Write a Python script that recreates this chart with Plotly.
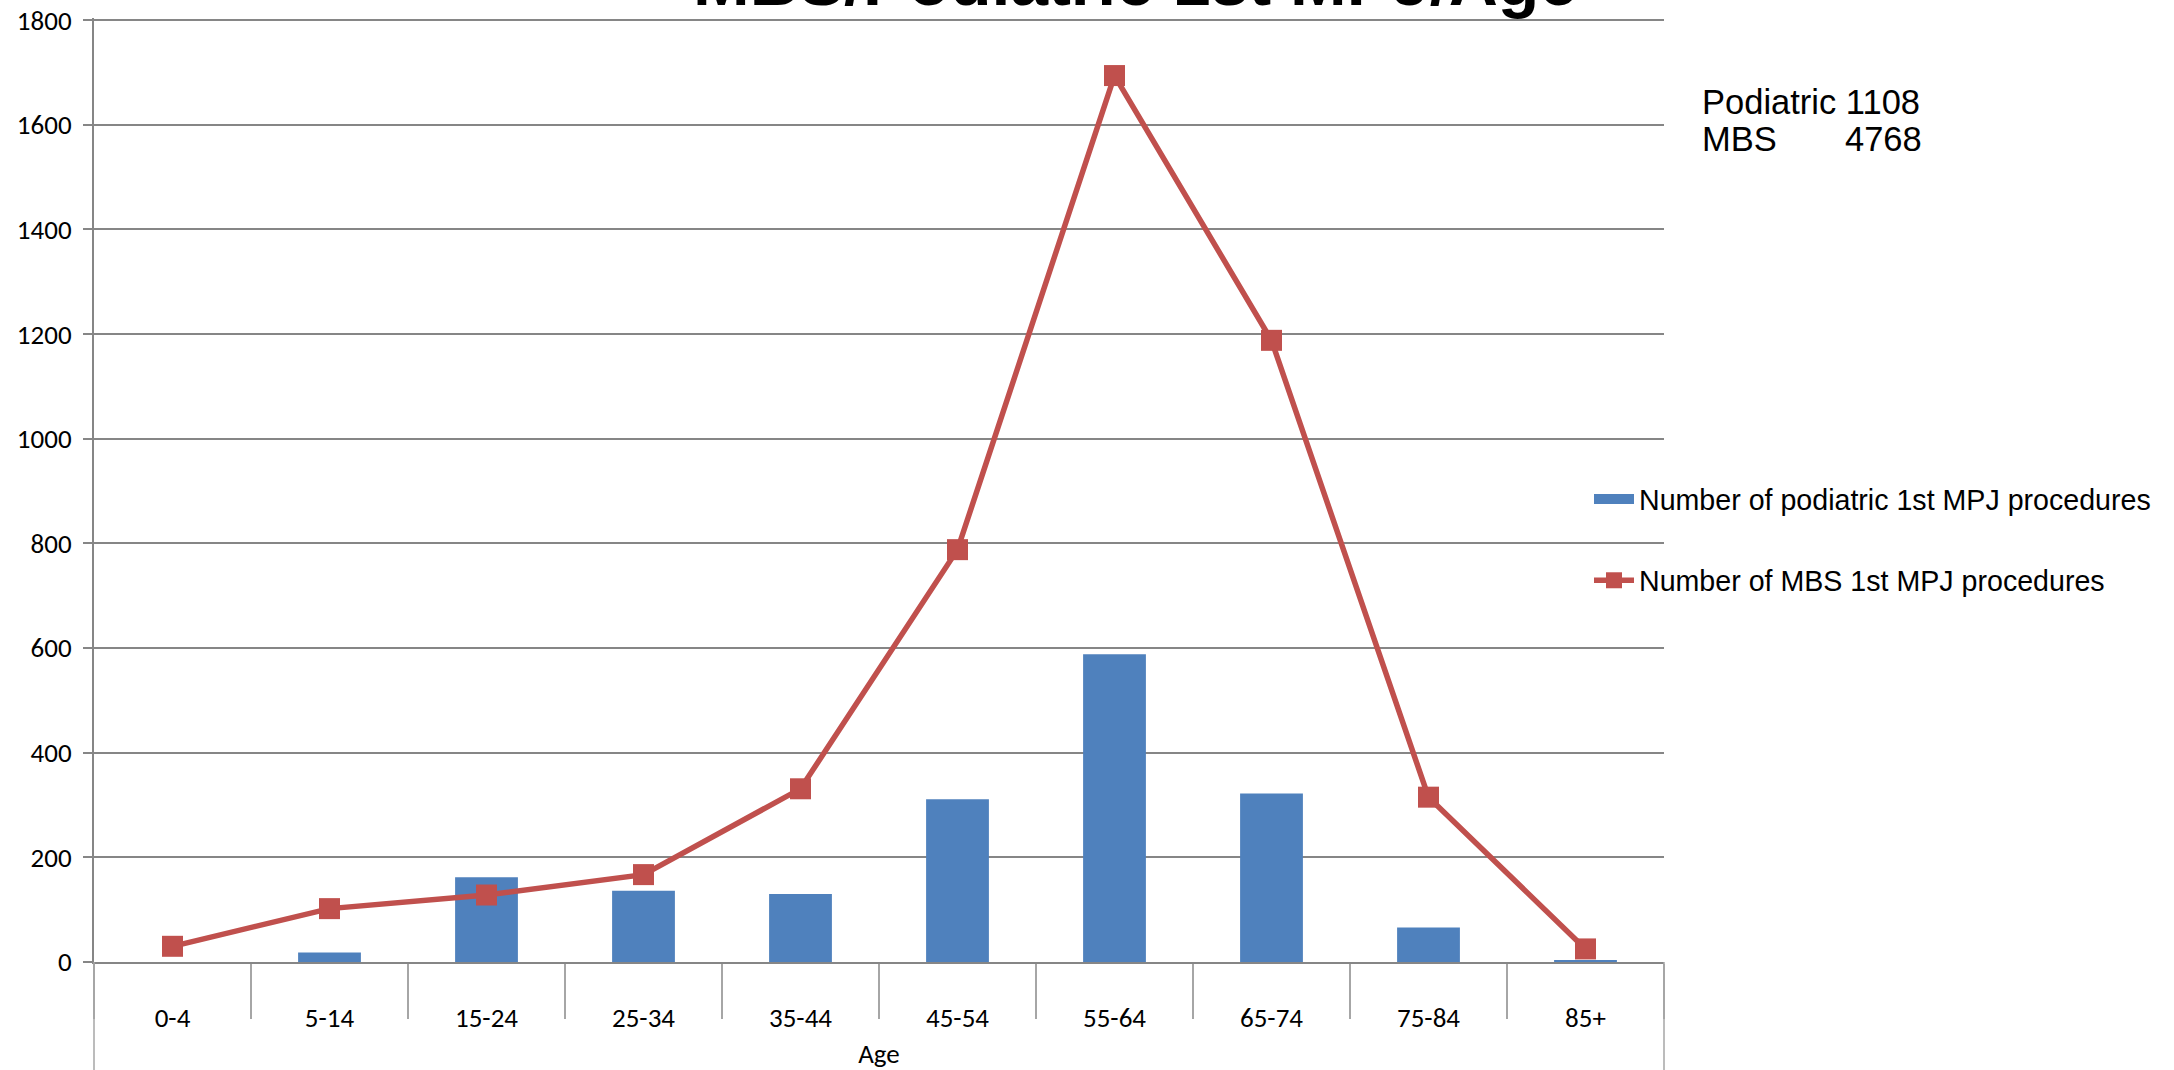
import plotly.graph_objects as go

# Age bands and procedure counts
age_groups = ["0-4", "5-14", "15-24", "25-34", "35-44", "45-54", "55-64", "65-74", "75-84", "85+"]
podiatric_counts = [0, 18, 162, 136, 130, 311, 588, 322, 66, 4]
mbs_counts = [30, 102, 128, 167, 331, 788, 1694, 1188, 315, 25]

y_ticks = [0, 200, 400, 600, 800, 1000, 1200, 1400, 1600, 1800]

podiatric_name = "Number of podiatric 1st MPJ procedures"
mbs_name = "Number of MBS 1st MPJ procedures"
chart_title = "MBS/Podiatric 1st MPJ/Age"
total_lines = [("Podiatric 1108", None), ("MBS", "4768")]

W, H = 2174, 1070
M_L, M_R, M_T, M_B = 94, 510, 18, 108
PW, PH = W - M_L - M_R, H - M_T - M_B


def px_x(x):
    return (x - M_L) / PW


def px_y(y):
    return (H - M_B - y) / PH


GRID = "#868686"
BLUE = "#4F81BD"
RED = "#C0504D"
TICK_FONT = dict(family="Carlito, Lato, sans-serif", size=27, color="#000000")
ARIAL = "Arial, Liberation Sans, sans-serif"

fig = go.Figure()

fig.add_trace(go.Bar(
    x=age_groups,
    y=podiatric_counts,
    name=podiatric_name,
    marker=dict(color=BLUE, line=dict(width=0)),
    width=0.4,
    showlegend=False,
    legendgroup="pod",
))

# Legend key for the bars: a wide flat swatch
fig.add_trace(go.Scatter(
    x=[None], y=[None],
    name=podiatric_name,
    mode="lines",
    line=dict(color=BLUE, width=15),
    legendgroup="pod",
))

fig.add_trace(go.Scatter(
    x=age_groups,
    y=mbs_counts,
    name=mbs_name,
    mode="lines+markers",
    line=dict(color=RED, width=5.5),
    marker=dict(symbol="square", size=21, color=RED),
    legendgroup="mbs",
))

# Frame running down on both sides around the category labels and axis title
shapes = []
for xe in (0, 1):
    shapes.append(dict(type="line", xref="paper", yref="paper",
                       x0=xe, x1=xe, y0=0, y1=-M_B / PH,
                       line=dict(color="#A6A6A6", width=1.5)))

annotations = [
    dict(text="<b>" + chart_title + "</b>", xref="paper", yref="paper",
         x=px_x(1135), y=px_y(-19), xanchor="center", yanchor="middle",
         showarrow=False, font=dict(family=ARIAL, size=68, color="#000000")),
    dict(text=total_lines[0][0], xref="paper", yref="paper",
         x=px_x(1700), y=px_y(102), xanchor="left", yanchor="middle",
         showarrow=False, font=dict(family=ARIAL, size=34.5, color="#000000")),
    dict(text=total_lines[1][0], xref="paper", yref="paper",
         x=px_x(1700), y=px_y(139), xanchor="left", yanchor="middle",
         showarrow=False, font=dict(family=ARIAL, size=34.5, color="#000000")),
    dict(text=total_lines[1][1], xref="paper", yref="paper",
         x=px_x(1924), y=px_y(139), xanchor="right", yanchor="middle",
         showarrow=False, font=dict(family=ARIAL, size=34.5, color="#000000")),
]

fig.update_layout(
    width=W, height=H,
    margin=dict(l=M_L, r=M_R, t=M_T, b=M_B, pad=0, autoexpand=False),
    paper_bgcolor="#FFFFFF",
    plot_bgcolor="#FFFFFF",
    showlegend=True,
    legend=dict(
        x=px_x(1589), y=px_y(474), xanchor="left", yanchor="top",
        font=dict(family=ARIAL, size=28.6, color="#000000"),
        bgcolor="rgba(0,0,0,0)",
        tracegroupgap=41,
        itemwidth=40,
    ),
    shapes=shapes,
    annotations=annotations,
    bargap=0.6,
)

fig.update_xaxes(
    type="category",
    range=[-0.5, len(age_groups) - 0.5],
    automargin=False,
    showline=True, linecolor=GRID, linewidth=2,
    showgrid=False,
    ticks="outside", tickson="boundaries", ticklen=55, tickwidth=1.5, tickcolor="#A6A6A6",
    ticklabelstandoff=31,
    tickfont=TICK_FONT,
    title=dict(text="Age", font=TICK_FONT, standoff=17),
)

fig.update_yaxes(
    range=[0, 1804],
    tickvals=y_ticks,
    automargin=False,
    showline=True, linecolor=GRID, linewidth=2,
    showgrid=True, gridcolor=GRID, gridwidth=2,
    zeroline=False,
    ticks="outside", ticklen=9, tickwidth=2, tickcolor=GRID,
    ticklabelstandoff=6,
    tickfont=TICK_FONT,
)

fig.write_html("out.html")
